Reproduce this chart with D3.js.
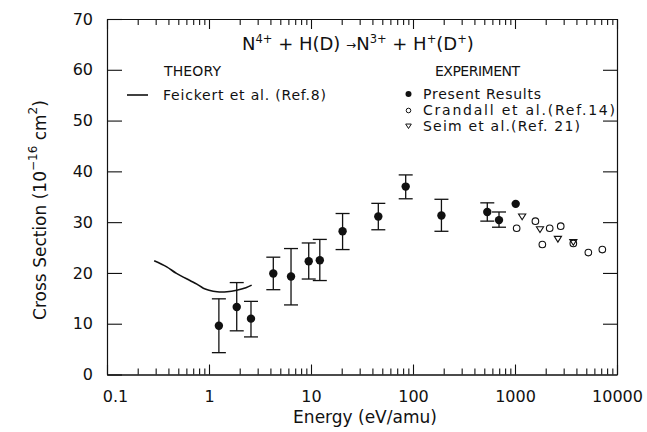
<!DOCTYPE html>
<html><head><meta charset="utf-8">
<script src="https://cdn.jsdelivr.net/npm/d3@7"></script>
<style>
body{margin:0;background:#fff;}
svg text{font-family:"DejaVu Sans",sans-serif;fill:#111;}
</style></head>
<body><svg id="c" width="647" height="432"></svg>
<script>
// ---- data ----
const xTickLabels = [0.1, 1, 10, 100, 1000, 10000];
const yTickValues = [0, 10, 20, 30, 40, 50, 60, 70];

const presentE  = [1.25, 1.87, 2.58, 4.27, 6.37, 9.5, 12.2, 20.4, 45.7, 84.8, 190, 535, 697, 1016];
const presentV  = [9.6, 13.3, 11.0, 19.9, 19.3, 22.3, 22.5, 28.2, 31.1, 37.0, 31.3, 32.0, 30.4, 33.6];
const presentHi = [14.9, 18.1, 14.4, 23.1, 24.8, 25.9, 26.6, 31.7, 33.7, 39.3, 34.5, 33.8, 32.0, null];
const presentLo = [4.3, 8.6, 7.4, 16.7, 13.7, 18.8, 18.5, 24.6, 28.5, 34.6, 28.2, 30.2, 29.0, null];

const crandallE = [1038, 1585, 1854, 2188, 2807, 3731, 5236, 7180];
const crandallV = [28.8, 30.2, 25.6, 28.8, 29.2, 25.8, 24.0, 24.6];

const seimE = [1175, 1758, 2634, 3731];
const seimV = [31.1, 28.6, 26.7, 26.1];

const theoryE = [0.29, 0.385, 0.48, 0.65, 0.76, 0.88, 1.0, 1.2, 1.5, 1.87, 2.3, 2.62];
const theoryV = [22.4, 21.2, 19.9, 18.5, 17.8, 17.0, 16.6, 16.3, 16.3, 16.6, 17.1, 17.6];

// ---- scales ----
const svg = d3.select("#c");
const x = d3.scaleLog().domain([0.1, 10000]).range([107, 617]);
const y = d3.scaleLinear().domain([0, 70]).range([374.5, 19]);

const minorTicks = [];
for (let d = 0.1; d < 10000; d *= 10) for (let k = 2; k <= 9; k++) minorTicks.push(+(d * k).toPrecision(3));

function styleAxis(g){ g.selectAll("path,line").attr("stroke","#111").attr("stroke-width",1.1); g.select(".domain").attr("stroke-width",1.2); }

// bottom axis
svg.append("g").attr("transform","translate(0,374.5)")
  .call(d3.axisBottom(x).tickValues(minorTicks).tickSize(-6).tickSizeOuter(0).tickFormat(""))
  .call(styleAxis);
const bx = svg.append("g").attr("transform","translate(0,374.5)")
  .call(d3.axisBottom(x).tickValues(xTickLabels).tickSize(-10).tickSizeOuter(0).tickPadding(16)
  .tickFormat(d => d3.format("")(d)))
  .call(styleAxis);
bx.selectAll("text").attr("font-size",16).attr("fill","#111").attr("font-family","DejaVu Sans, sans-serif")
  .attr("dx", (d,i) => i === 0 ? 8 : 0);

// top axis
svg.append("g").attr("transform","translate(0,19)")
  .call(d3.axisTop(x).tickValues(minorTicks).tickSize(-6).tickSizeOuter(0).tickFormat(""))
  .call(styleAxis);
svg.append("g").attr("transform","translate(0,19)")
  .call(d3.axisTop(x).tickValues(xTickLabels).tickSize(-10).tickSizeOuter(0).tickFormat(""))
  .call(styleAxis);

// left axis
const ly = svg.append("g").attr("transform","translate(107,0)")
  .call(d3.axisLeft(y).tickValues(yTickValues).tickSize(-15).tickSizeOuter(0).tickPadding(14))
  .call(styleAxis);
ly.selectAll("text").attr("font-size",16).attr("fill","#111").attr("font-family","DejaVu Sans, sans-serif");

// right axis
svg.append("g").attr("transform","translate(617,0)")
  .call(d3.axisRight(y).tickValues(yTickValues.slice(1, -1)).tickSize(-14).tickSizeOuter(0).tickFormat(""))
  .call(styleAxis);

// ---- theory line ----
const theory = theoryE.map((e,i) => [e, theoryV[i]]);
svg.append("path").datum(theory)
  .attr("d", d3.line().x(d => x(d[0])).y(d => y(d[1])).curve(d3.curveCatmullRom.alpha(0.5)))
  .attr("fill","none").attr("stroke","#111").attr("stroke-width",1.6);

// ---- present results ----
const present = presentE.map((e,i) => ({e, v: presentV[i], hi: presentHi[i], lo: presentLo[i]}));
const eb = svg.append("g").attr("stroke","#111").attr("stroke-width",1.3);
present.filter(d => d.hi != null).forEach(d => {
  const cx = x(d.e);
  eb.append("line").attr("x1",cx).attr("x2",cx).attr("y1",y(d.hi)).attr("y2",y(d.lo));
  eb.append("line").attr("x1",cx-7).attr("x2",cx+7).attr("y1",y(d.hi)).attr("y2",y(d.hi));
  eb.append("line").attr("x1",cx-7).attr("x2",cx+7).attr("y1",y(d.lo)).attr("y2",y(d.lo));
});
svg.append("g").selectAll("circle").data(present).join("circle")
  .attr("cx", d => x(d.e)).attr("cy", d => y(d.v)).attr("r", 4.2).attr("fill","#111");

// ---- Crandall ----
svg.append("g").selectAll("circle").data(crandallE.map((e,i)=>[e,crandallV[i]])).join("circle")
  .attr("cx", d => x(d[0])).attr("cy", d => y(d[1])).attr("r", 3.3)
  .attr("fill","none").attr("stroke","#111").attr("stroke-width",1.1);

// ---- Seim ----
const tri = (cx, cy, s) => `M${cx-s},${cy-s*0.7}L${cx+s},${cy-s*0.7}L${cx},${cy+s*0.9}Z`;
svg.append("g").selectAll("path").data(seimE.map((e,i)=>[e,seimV[i]])).join("path")
  .attr("d", d => tri(x(d[0]), y(d[1]), 3.6))
  .attr("fill","none").attr("stroke","#111").attr("stroke-width",1.1);

// ---- title ----
const sup = (t, s) => t.append("tspan").attr("dy",-7).attr("font-size",11.5).text(s);
const title = svg.append("text").attr("x",242).attr("y",50).attr("font-size",18);
title.append("tspan").text("N");
sup(title,"4+");
title.append("tspan").attr("dy",7).text(" + H(D) ");
title.append("tspan").attr("font-size",12).attr("dy",-1).text("\u2192");
title.append("tspan").attr("dy",1).text("N");
sup(title,"3+");
title.append("tspan").attr("dy",7).text(" + H");
sup(title,"+");
title.append("tspan").attr("dy",7).text("(D");
sup(title,"+");
title.append("tspan").attr("dy",7).text(")");

// ---- legends ----
const lg = svg.append("g").attr("font-size",14);
lg.append("text").attr("x",164).attr("y",76).attr("textLength",57).text("THEORY");
lg.append("text").attr("x",435).attr("y",76).attr("textLength",85).text("EXPERIMENT");
lg.append("line").attr("x1",127).attr("x2",148).attr("y1",95).attr("y2",95).attr("stroke","#111").attr("stroke-width",1.6);
lg.append("text").attr("x",163).attr("y",100).attr("textLength",163).text("Feickert et al. (Ref.8)");
lg.append("circle").attr("cx",408.5).attr("cy",94).attr("r",3).attr("fill","#111");
lg.append("text").attr("x",423).attr("y",99).attr("textLength",118).text("Present Results");
lg.append("circle").attr("cx",408.5).attr("cy",110.5).attr("r",2.3).attr("fill","none").attr("stroke","#111").attr("stroke-width",1);
lg.append("text").attr("x",423).attr("y",115).attr("textLength",192).text("Crandall et al.(Ref.14)");
lg.append("path").attr("d",tri(408.5,126,2.8)).attr("fill","none").attr("stroke","#111").attr("stroke-width",1);
lg.append("text").attr("x",423).attr("y",131).attr("textLength",157).text("Seim et al.(Ref. 21)");

// ---- axis titles ----
svg.append("text").attr("x",365).attr("y",423).attr("text-anchor","middle").attr("font-size",17).text("Energy (eV/amu)");
const yt = svg.append("text").attr("transform","translate(46,210) rotate(-90)").attr("text-anchor","middle").attr("font-size",17);
yt.append("tspan").text("Cross Section (10");
yt.append("tspan").attr("dy",-9).attr("font-size",12).text("\u221216");
yt.append("tspan").attr("dy",9).text(" cm");
yt.append("tspan").attr("dy",-9).attr("font-size",12).text("2");
yt.append("tspan").attr("dy",9).text(")");
</script></body></html>
